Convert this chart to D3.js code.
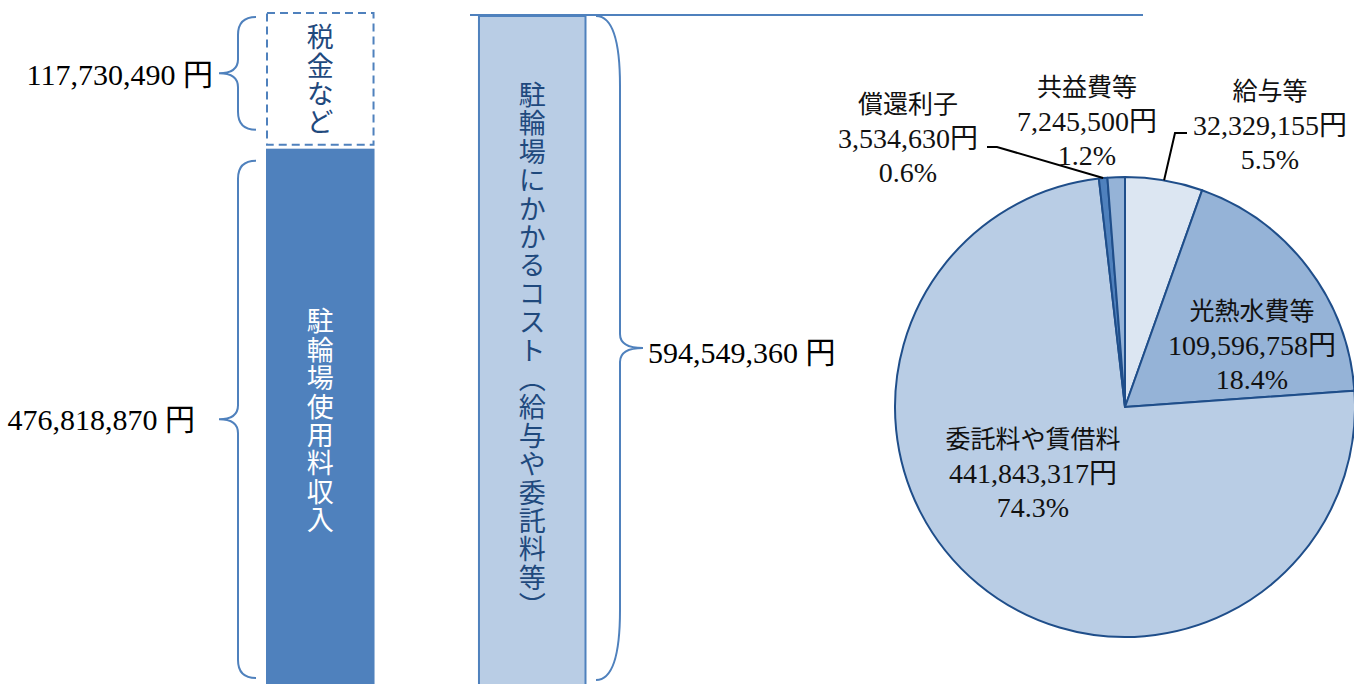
<!DOCTYPE html>
<html>
<head>
<meta charset="utf-8">
<script src="https://cdn.jsdelivr.net/npm/d3@7"></script>
<style>
  body { margin: 0; background: #fff; }
  svg { display: block; }
</style>
</head>
<body>
<script>
// bar data
var barCategories = ["収入", "コスト"];
var incomeParts = ["駐輪場使用料収入", "税金など"];
var incomeValues = [476818870, 117730490];
var costTotal = 594549360;
var costBarLabel = "駐輪場にかかるコスト（給与や委託料等）";

// pie data
var categories = ["給与等", "光熱水費等", "委託料や賃借料", "償還利子", "共益費等"];
var costValues = [32329155, 109596758, 441843317, 3534630, 7245500];
var percentLabels = ["5.5%", "18.4%", "74.3%", "0.6%", "1.2%"];

var sliceColors = ["#DCE6F2", "#95B3D7", "#B9CDE5", "#4F81BD", "#95B3D7"];
// label placement (center x, first line y) and leader line start
var labelLayout = {
    "給与等": { x: 1270, y: 91, leader: [1187, 133, 1175, 133] },
    "光熱水費等": { x: 1252, y: 311 },
    "委託料や賃借料": { x: 1033, y: 439 },
    "償還利子": { x: 908, y: 104, leader: [987, 147, 997, 147] },
    "共益費等": { x: 1087, y: 87 }
};

var W = 1354, H = 684;
var blue = "#4F81BD", darkText = "#1F497D";
var serif = "'Liberation Serif', 'Noto Sans CJK JP', serif";
var sans = "'Noto Sans CJK JP', sans-serif";
var fmt = d3.format(",");

var svg = d3.select("body").append("svg")
    .attr("width", W)
    .attr("height", H);

var y = d3.scaleLinear()
    .domain([0, costTotal])
    .range([H, 14]);

var x = d3.scaleBand()
    .domain(barCategories)
    .range([266, 586.5])
    .paddingInner(0.488);

// top rule line
svg.append("line")
    .attr("x1", 470).attr("x2", 1143)
    .attr("y1", y(costTotal) + 1).attr("y2", y(costTotal) + 1)
    .attr("stroke", blue).attr("stroke-width", 2);

// income bar: solid part
var incomeTop = y(incomeValues[0]);
svg.append("rect")
    .attr("x", x("収入"))
    .attr("y", incomeTop + 2)
    .attr("width", x.bandwidth())
    .attr("height", y(0) - incomeTop - 2)
    .attr("fill", blue);

// income bar: dashed part (tax)
var taxTop = y(incomeValues[0] + incomeValues[1]);
svg.append("rect")
    .attr("x", x("収入") + 1)
    .attr("y", taxTop - 1)
    .attr("width", x.bandwidth() - 2)
    .attr("height", incomeTop - taxTop - 1)
    .attr("fill", "none")
    .attr("stroke", blue)
    .attr("stroke-width", 2)
    .attr("stroke-dasharray", "8,5");

// cost bar
svg.append("rect")
    .attr("x", x("コスト") + 1)
    .attr("y", y(costTotal) + 2)
    .attr("width", x.bandwidth() - 2)
    .attr("height", y(0) - y(costTotal) + 2)
    .attr("fill", "#B9CDE5")
    .attr("stroke", blue)
    .attr("stroke-width", 2);

// vertical labels inside bars
function vtext(cx, cy, txt, color) {
    svg.append("text")
        .attr("x", cx)
        .attr("y", cy)
        .attr("text-anchor", "middle")
        .style("writing-mode", "vertical-rl")
        .style("font-family", sans)
        .style("font-size", "27px")
        .style("letter-spacing", "1.4px")
        .attr("fill", color)
        .text(txt);
}
var bx = x("収入") + x.bandwidth() / 2;
vtext(bx, (y(0) + incomeTop) / 2 + 6, incomeParts[0], "#fff");
vtext(bx, (incomeTop + taxTop) / 2, incomeParts[1], darkText);
vtext(x("コスト") + x.bandwidth() / 2, (y(0) + y(costTotal)) / 2 + 2, costBarLabel, darkText);

// braces
function brace(y0, y1, xEnd, xMid, xTip, r) {
    var m = (y0 + y1) / 2;
    return "M" + xEnd + "," + y0 +
        " Q" + xMid + "," + y0 + " " + xMid + "," + (y0 + r) +
        " L" + xMid + "," + (m - 14) +
        " Q" + xMid + "," + m + " " + xTip + "," + m +
        " Q" + xMid + "," + m + " " + xMid + "," + (m + 14) +
        " L" + xMid + "," + (y1 - r) +
        " Q" + xMid + "," + y1 + " " + xEnd + "," + y1;
}
var braces = svg.append("g")
    .attr("fill", "none")
    .attr("stroke", blue)
    .attr("stroke-width", 2);
braces.append("path").attr("d", brace(taxTop + 3, incomeTop - 17, 256, 238, 219, 18));
braces.append("path").attr("d", brace(incomeTop + 14, y(0) - 6, 256, 238, 219, 18));
braces.append("path").attr("d", brace(y(costTotal) + 2, y(0) - 4, 596, 620, 643, 70));

// brace labels
function sideLabel(xp, yp, anchor, v) {
    svg.append("text")
        .attr("x", xp)
        .attr("y", yp)
        .attr("text-anchor", anchor)
        .attr("dominant-baseline", "central")
        .style("font-family", serif)
        .style("font-size", "30px")
        .attr("fill", "#000")
        .text(fmt(v) + " 円");
}
sideLabel(213, (taxTop + incomeTop) / 2 - 6, "end", incomeValues[1]);
sideLabel(195, (incomeTop + y(0)) / 2 + 4, "end", incomeValues[0]);
sideLabel(648, (y(costTotal) + y(0)) / 2 + 3, "start", costTotal);

// pie
var cx = 1125, cy = 407, R = 230;
var pieData = categories.map(function (c, i) {
    return { name: c, value: costValues[i], pct: percentLabels[i], color: sliceColors[i] };
});
var pie = d3.pie().sort(null).value(function (d) { return d.value; });
var arc = d3.arc().innerRadius(0).outerRadius(R);
var edgeArc = d3.arc().innerRadius(R).outerRadius(R);

var pg = svg.append("g").attr("transform", "translate(" + cx + "," + cy + ")");
pg.selectAll("path.slice")
    .data(pie(pieData))
    .enter().append("path")
    .attr("class", "slice")
    .attr("d", arc)
    .attr("fill", function (d) { return d.data.color; })
    .attr("stroke", "#1F4E8A")
    .attr("stroke-width", 2)
    .attr("stroke-linejoin", "round");

// leader lines
pie(pieData).forEach(function (d) {
    var L = labelLayout[d.data.name];
    if (!L.leader) return;
    var e = edgeArc.centroid(d);
    svg.append("polyline")
        .attr("points", [L.leader[0], L.leader[1], L.leader[2], L.leader[3], cx + e[0], cy + e[1]].join(","))
        .attr("fill", "none")
        .attr("stroke", "#000")
        .attr("stroke-width", 2);
});

// pie labels
var labels = svg.append("g")
    .style("font-family", serif)
    .attr("fill", "#111")
    .attr("text-anchor", "middle");
pieData.forEach(function (d) {
    var L = labelLayout[d.name];
    var lines = [d.name, fmt(d.value) + "円", d.pct];
    lines.forEach(function (t, i) {
        labels.append("text")
            .attr("x", L.x)
            .attr("y", L.y + i * 34)
            .attr("dominant-baseline", "central")
            .style("font-size", i === 0 ? "25px" : "28px")
            .text(t);
    });
});
</script>
</body>
</html>
